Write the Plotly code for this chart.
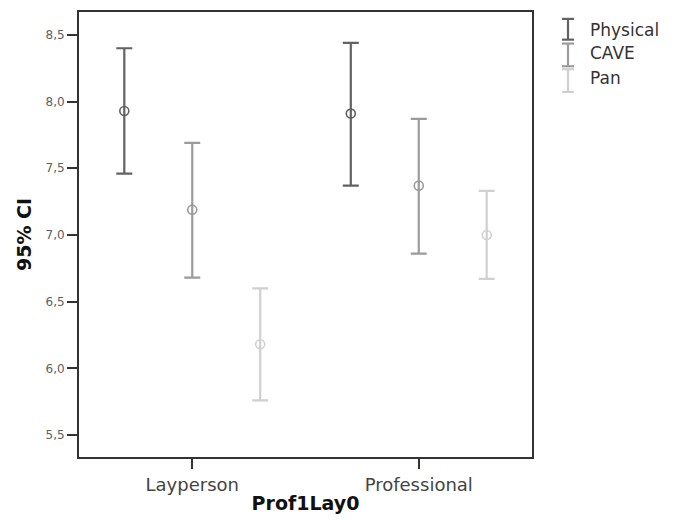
import plotly.graph_objects as go

# Confidence-interval summary per group
groups = ["Layperson", "Professional"]
series = ["Physical", "CAVE", "Pan"]
means = {
    "Physical": [7.93, 7.91],
    "CAVE": [7.19, 7.37],
    "Pan": [6.18, 7.00],
}
ci_low = {
    "Physical": [7.46, 7.37],
    "CAVE": [6.68, 6.86],
    "Pan": [5.76, 6.67],
}
ci_high = {
    "Physical": [8.40, 8.44],
    "CAVE": [7.69, 7.87],
    "Pan": [6.60, 7.33],
}
y_ticks = [5.5, 6.0, 6.5, 7.0, 7.5, 8.0, 8.5]

colors = {"Physical": "#626262", "CAVE": "#9b9b9b", "Pan": "#d0d0d0"}
offsets = {"Physical": -0.3, "CAVE": 0.0, "Pan": 0.3}

W, H = 675, 521
M = dict(l=79, r=143, t=10, b=60)
FONT = "DejaVu Sans"

fig = go.Figure()
for s in series:
    xs = [i + offsets[s] for i in range(len(groups))]
    fig.add_trace(go.Scatter(
        x=xs,
        y=means[s],
        mode="markers",
        name=s,
        showlegend=False,
        marker=dict(symbol="circle-open", size=9, color=colors[s],
                    line=dict(width=1.6, color=colors[s])),
        error_y=dict(
            type="data",
            symmetric=False,
            array=[h - m for h, m in zip(ci_high[s], means[s])],
            arrayminus=[m - l for m, l in zip(means[s], ci_low[s])],
            color=colors[s],
            thickness=2.2,
            width=8,
        ),
    ))

# Legend drawn as error-bar glyphs with labels to the right of the plot
plot_w = W - M["l"] - M["r"]
plot_h = H - M["t"] - M["b"]


def px_x(x):
    return (x - M["l"]) / plot_w


def px_y(y):
    return (H - M["b"] - y) / plot_h


legend_rows = [(17, 38, 28), (42, 65, 52), (68, 91, 77)]
icon_x, cap = 568, 6
for s, (top, bot, mid) in zip(series, legend_rows):
    line = dict(color=colors[s], width=2.2)
    fig.add_shape(type="line", xref="paper", yref="paper",
                  x0=px_x(icon_x), x1=px_x(icon_x), y0=px_y(top), y1=px_y(bot), line=line)
    for yy in (top, bot):
        fig.add_shape(type="line", xref="paper", yref="paper",
                      x0=px_x(icon_x - cap), x1=px_x(icon_x + cap),
                      y0=px_y(yy), y1=px_y(yy), line=line)
    fig.add_annotation(xref="paper", yref="paper", x=px_x(588), y=px_y(mid),
                       text=s, showarrow=False, xanchor="left", yanchor="middle",
                       font=dict(family=FONT, size=17, color="#333333"))

fig.update_layout(
    width=W, height=H,
    margin=M,
    paper_bgcolor="white",
    plot_bgcolor="white",
    separators=",.",
    font=dict(family=FONT, color="#333333"),
    showlegend=False,
)
fig.update_xaxes(
    range=[-0.5, 1.5],
    tickmode="array",
    tickvals=list(range(len(groups))),
    ticktext=groups,
    ticks="outside", ticklen=10, tickwidth=1.5, tickcolor="#333333",
    tickfont=dict(family=FONT, size=18, color="#444444"),
    showline=True, linecolor="#333333", linewidth=2, mirror=True,
    showgrid=False, zeroline=False,
    title=dict(text="<b>Prof1Lay0</b>", standoff=3,
               font=dict(family=FONT, size=19, color="#111111")),
)
fig.update_yaxes(
    range=[5.335, 8.672],
    tickmode="array",
    tickvals=y_ticks,
    tickformat=".1f",
    ticks="outside", ticklen=10, tickwidth=1.5, tickcolor="#333333",
    tickfont=dict(family=FONT, size=12, color="#606060"),
    showline=True, linecolor="#333333", linewidth=2, mirror=True,
    showgrid=False, zeroline=False,
    title=dict(text="<b>95% CI</b>", standoff=9,
               font=dict(family=FONT, size=19, color="#111111")),
)

fig.write_html("out.html")
